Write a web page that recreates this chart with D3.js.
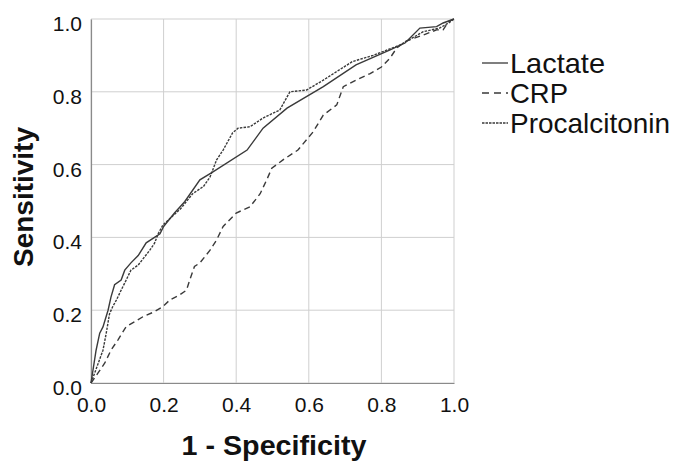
<!DOCTYPE html>
<html>
<head>
<meta charset="utf-8">
<script src="https://cdn.jsdelivr.net/npm/d3@7"></script>
<style>
  body { margin: 0; background: #fff; }
  text { font-family: Arial, "Liberation Sans", sans-serif; fill: #111; }
</style>
</head>
<body>
<div id="chart"></div>
<script>
var width = 678, height = 461;
var margin = {left: 91, top: 19, right: 224, bottom: 78};

var ticks = [0, 0.2, 0.4, 0.6, 0.8, 1.0];

// ROC curve points (1 - specificity, sensitivity)
var lactateX = [0, 0.014, 0.024, 0.033, 0.047, 0.055, 0.065, 0.083, 0.093, 0.11, 0.13, 0.152, 0.175, 0.19, 0.20, 0.23, 0.258, 0.30, 0.336, 0.43, 0.474, 0.54, 0.64, 0.73, 0.824, 0.865, 0.906, 0.952, 0.97, 1];
var lactateY = [0, 0.09, 0.137, 0.154, 0.20, 0.236, 0.27, 0.283, 0.31, 0.33, 0.35, 0.385, 0.40, 0.41, 0.43, 0.467, 0.498, 0.558, 0.58, 0.64, 0.70, 0.755, 0.814, 0.874, 0.915, 0.934, 0.975, 0.979, 0.989, 1];

var crpX = [0, 0.019, 0.038, 0.055, 0.074, 0.097, 0.12, 0.143, 0.175, 0.198, 0.217, 0.244, 0.263, 0.272, 0.285, 0.30, 0.328, 0.346, 0.364, 0.40, 0.438, 0.466, 0.484, 0.498, 0.529, 0.57, 0.612, 0.64, 0.677, 0.695, 0.73, 0.769, 0.80, 0.824, 0.842, 0.865, 0.915, 0.952, 0.97, 0.985, 1];
var crpY = [0, 0.027, 0.055, 0.09, 0.118, 0.155, 0.168, 0.182, 0.196, 0.21, 0.228, 0.242, 0.255, 0.283, 0.32, 0.33, 0.365, 0.393, 0.43, 0.467, 0.484, 0.52, 0.558, 0.59, 0.613, 0.64, 0.69, 0.736, 0.764, 0.814, 0.832, 0.85, 0.868, 0.893, 0.92, 0.938, 0.956, 0.97, 0.97, 0.993, 1];

var pctX = [0, 0.01, 0.033, 0.042, 0.051, 0.06, 0.07, 0.083, 0.097, 0.11, 0.13, 0.148, 0.162, 0.175, 0.185, 0.198, 0.248, 0.28, 0.31, 0.328, 0.346, 0.364, 0.39, 0.405, 0.438, 0.474, 0.52, 0.548, 0.594, 0.64, 0.72, 0.777, 0.85, 0.915, 0.96, 0.985, 1];
var pctY = [0, 0.027, 0.09, 0.137, 0.19, 0.21, 0.228, 0.255, 0.283, 0.31, 0.324, 0.347, 0.365, 0.384, 0.41, 0.434, 0.48, 0.52, 0.54, 0.566, 0.613, 0.64, 0.687, 0.70, 0.704, 0.728, 0.75, 0.80, 0.805, 0.832, 0.883, 0.90, 0.928, 0.965, 0.975, 0.989, 1];

var seriesNames = ['Lactate', 'CRP', 'Procalcitonin'];
var dashes = [null, '6,4', '2.5,1.2'];
var legendDashes = [null, '7,5', '2.5,1'];
var legendWidths = [95, 58, 160];

var series = [
  {name: seriesNames[0], x: lactateX, y: lactateY},
  {name: seriesNames[1], x: crpX, y: crpY},
  {name: seriesNames[2], x: pctX, y: pctY}
];

var svg = d3.select('#chart').append('svg')
  .attr('width', width)
  .attr('height', height);

var xScale = d3.scaleLinear().domain([0, 1]).range([margin.left, width - margin.right]);
var yScale = d3.scaleLinear().domain([0, 1]).range([height - margin.bottom, margin.top]);

// grid
svg.append('g').selectAll('line.vg')
  .data(ticks).enter().append('line')
  .attr('x1', d => xScale(d)).attr('x2', d => xScale(d))
  .attr('y1', yScale(0)).attr('y2', yScale(1))
  .attr('stroke', '#cfcfcf').attr('stroke-width', 1);
svg.append('g').selectAll('line.hg')
  .data(ticks).enter().append('line')
  .attr('y1', d => yScale(d)).attr('y2', d => yScale(d))
  .attr('x1', xScale(0)).attr('x2', xScale(1))
  .attr('stroke', '#cfcfcf').attr('stroke-width', 1);

// axes
var xAxis = d3.axisBottom(xScale).tickValues(ticks).tickFormat(d3.format('.1f')).tickSize(0).tickPadding(10);
var yAxis = d3.axisLeft(yScale).tickValues(ticks).tickFormat(d3.format('.1f')).tickSize(0).tickPadding(9);

var gx = svg.append('g').attr('transform', 'translate(0,' + yScale(0) + ')').call(xAxis);
gx.select('.domain').attr('stroke', '#8a8a8a').attr('stroke-width', 1.2);
gx.selectAll('text').style('font-size', '21px').attr('fill', '#111').attr('dy', '0.71em').attr('y', 14);

var gy = svg.append('g').attr('transform', 'translate(' + xScale(0) + ',0)').call(yAxis);
gy.select('.domain').attr('stroke', '#8a8a8a').attr('stroke-width', 1.2);
gy.selectAll('text').style('font-size', '21px').attr('fill', '#111').attr('dy', '0.55em');

// curves
var line = d3.line()
  .x(d => xScale(d[0]))
  .y(d => yScale(d[1]));

series.forEach(function (s, i) {
  var pts = s.x.map((v, j) => [v, s.y[j]]);
  svg.append('path')
    .datum(pts)
    .attr('d', line)
    .attr('fill', 'none')
    .attr('stroke', '#3a3a3a')
    .attr('stroke-width', 1.4)
    .attr('stroke-dasharray', dashes[i]);
});

// axis titles
svg.append('text')
  .attr('x', 274).attr('y', 455)
  .attr('text-anchor', 'middle')
  .style('font-size', '28px').style('font-weight', 'bold')
  .attr('textLength', 185).attr('lengthAdjust', 'spacingAndGlyphs')
  .text('1 - Specificity');

svg.append('text')
  .attr('transform', 'translate(33,197) rotate(-90)')
  .attr('text-anchor', 'middle')
  .style('font-size', '28px').style('font-weight', 'bold')
  .attr('textLength', 140).attr('lengthAdjust', 'spacingAndGlyphs')
  .text('Sensitivity');

// legend
var legend = svg.append('g').selectAll('g')
  .data(seriesNames).enter().append('g')
  .attr('transform', (d, i) => 'translate(0,' + (62.5 + i * 30) + ')');

legend.append('line')
  .attr('x1', 482).attr('x2', 508)
  .attr('y1', 0.5).attr('y2', 0.5)
  .attr('stroke', '#3a3a3a').attr('stroke-width', 1.3)
  .attr('stroke-dasharray', (d, i) => legendDashes[i]);

legend.append('text')
  .attr('x', 510).attr('y', 10)
  .style('font-size', '28px')
  .attr('textLength', (d, i) => legendWidths[i]).attr('lengthAdjust', 'spacingAndGlyphs')
  .text(d => d);
</script>
</body>
</html>
